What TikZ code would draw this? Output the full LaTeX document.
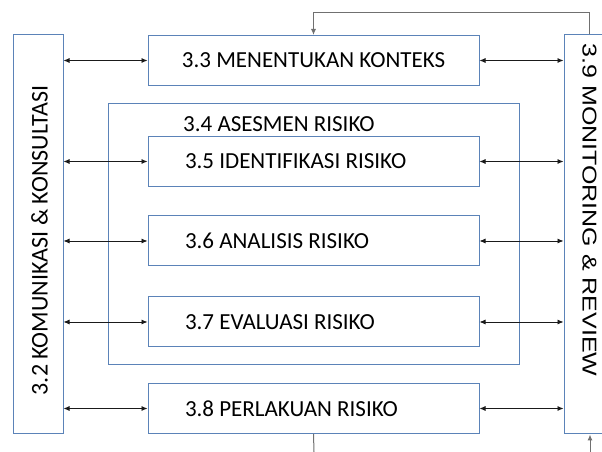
\documentclass[tikz,border=0pt]{standalone}
\usepackage{fontspec}
\setmainfont{Carlito}
\newfontfamily\arialf{Liberation Sans}
\usetikzlibrary{arrows.meta}
\frenchspacing
\definecolor{boxblue}{HTML}{5B83B8}
\definecolor{arrowgrey}{HTML}{1A1A1A}
\definecolor{linegrey}{HTML}{707070}
\newcommand{\lefttext}[1]{\makebox[257pt][l]{#1}}
\tikzset{
  x=1pt,y=1pt,
  bx/.style={draw=boxblue, line width=1pt, rectangle, inner sep=0pt},
  stagebox/.style={bx, minimum width=331pt, minimum height=50pt, inner xsep=37pt, font=\fontsize{23}{27}\selectfont},
  dbl/.style={draw=arrowgrey, line width=0.8pt, {Latex[length=6pt,width=5pt]}-{Latex[length=6pt,width=5pt]}},
  fb/.style={draw=linegrey, line width=1pt},
  lbl/.style={inner sep=0pt, font=\fontsize{23}{27}\selectfont}
}
\begin{document}
\begin{tikzpicture}
\useasboundingbox (0,0) rectangle (602,452);
\clip (0,0) rectangle (602,452);
\fill[white] (0,0) rectangle (602,452);
% side boxes
\node[bx, minimum width=50pt, minimum height=399pt] (L) at (38,217.5) {};
\node[bx, minimum width=50pt, minimum height=399pt] (R) at (589,217.5) {};
\node[inner sep=0pt, rotate=90, font=\fontsize{24}{28}\selectfont] (Ltxt) at (39.5,211.5) {3.2 KOMUNIKASI \& KONSULTASI};
\node[inner sep=0pt, rotate=-90, font=\arialf\fontsize{20}{24}\selectfont] (Rtxt) at (589.5,242) {\scalebox{1.25}[1]{3.9 MONITORING \& REVIEW}};
% assessment frame
\node[bx, minimum width=411pt, minimum height=261pt] (F) at (313.5,217.5) {};
\node[lbl, anchor=west] (Ftxt) at (183,328.3) {3.4 ASESMEN RISIKO};
% stage boxes
\node[stagebox, inner xsep=0pt] (A) at (313.5,391.5) {3.3 MENENTUKAN KONTEKS};
\node[stagebox] (B) at (313.5,290.5) {\lefttext{3.5 IDENTIFIKASI RISIKO}};
\node[stagebox] (C) at (313.5,211) {\lefttext{3.6 ANALISIS RISIKO}};
\node[stagebox] (D) at (313.5,130) {\lefttext{3.7 EVALUASI RISIKO}};
\node[stagebox] (P) at (313.5,43.5) {\lefttext{3.8 PERLAKUAN RISIKO}};
% double arrows
\foreach \n in {A,B,C,D,P}{
  \draw[dbl] (L.east |- \n.west) -- (\n.west);
  \draw[dbl] (\n.east) -- (R.west |- \n.east);
}
% feedback
\draw[fb, -{Latex[length=6pt,width=5pt]}] (R.north) -- ++(0,22) -| (A.north);
\coordinate (b1) at (590,0);
\coordinate (b2) at (314,0);
\draw[fb, -{Latex[length=6pt,width=5pt]}] (b1) -- (b1 |- R.south);
\draw[fb] (P.south) -- (b2);
\end{tikzpicture}
\end{document}
